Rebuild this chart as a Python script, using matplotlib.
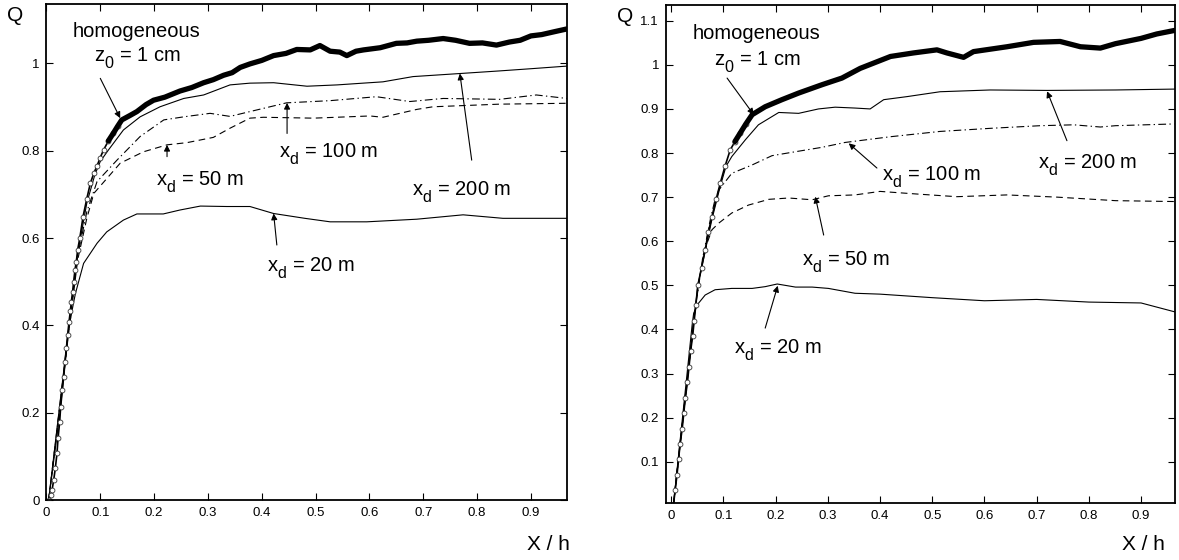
import numpy as np
import matplotlib.pyplot as plt

plt.rcParams['font.family'] = ['Liberation Sans Narrow', 'Liberation Sans', 'DejaVu Sans']
plt.rcParams['mathtext.fontset'] = 'custom'
plt.rcParams['mathtext.rm'] = 'Liberation Sans'
plt.rcParams['mathtext.it'] = 'Liberation Sans'

# subscripts in the original sit lower and are a bit bigger than mathtext's default
try:
    import matplotlib._mathtext as mtx
    mtx.SHRINK_FACTOR = 0.8
    for c in [mtx.FontConstantsBase] + list(mtx._font_constant_mapping.values()):
        c.sub1 = 0.65
except Exception:
    pass

# ---- left panel data (Q vs X/h) ----
hom_x_l = [0.004, 0.0085, 0.0104, 0.0135, 0.0165, 0.0196, 0.0215, 0.0245, 0.0264, 0.0295,
           0.032, 0.0345, 0.037, 0.0394, 0.042, 0.0443, 0.0462, 0.0486, 0.0505, 0.053,
           0.0555, 0.058, 0.062, 0.068, 0.075, 0.0815, 0.088, 0.094, 0.1, 0.106,
           0.115, 0.124, 0.132, 0.14, 0.155, 0.168, 0.185, 0.199, 0.22, 0.248,
           0.27, 0.292, 0.31, 0.329, 0.345, 0.36, 0.378, 0.40, 0.422, 0.445,
           0.465, 0.49, 0.508, 0.527, 0.545, 0.558, 0.575, 0.589, 0.62, 0.65,
           0.67, 0.688, 0.71, 0.737, 0.76, 0.786, 0.81, 0.836, 0.86, 0.88,
           0.90, 0.92, 0.945, 0.967]
hom_q_l = [0.0, 0.013, 0.024, 0.047, 0.074, 0.108, 0.142, 0.179, 0.214, 0.253,
           0.283, 0.317, 0.348, 0.378, 0.409, 0.432, 0.454, 0.477, 0.5, 0.527,
           0.546, 0.573, 0.60, 0.649, 0.69, 0.725, 0.748, 0.765, 0.784, 0.801,
           0.822, 0.839, 0.855, 0.87, 0.88, 0.889, 0.905, 0.915, 0.922, 0.936,
           0.944, 0.955, 0.962, 0.972, 0.978, 0.99, 0.998, 1.006, 1.017, 1.022,
           1.031, 1.03, 1.04, 1.027, 1.025, 1.017, 1.027, 1.03, 1.035, 1.045,
           1.046, 1.05, 1.052, 1.056, 1.052, 1.045, 1.046, 1.041, 1.048, 1.052,
           1.062, 1.065, 1.072, 1.078]

xd200_x_l = [0.004, 0.04, 0.058, 0.075, 0.09, 0.1, 0.115, 0.143, 0.174, 0.211, 0.255, 0.292,
             0.341, 0.378, 0.422, 0.484, 0.54, 0.588, 0.625, 0.681, 0.768, 0.842, 0.9, 0.967]
xd200_q_l = [0.0, 0.38, 0.565, 0.68, 0.745, 0.775, 0.801, 0.847, 0.877, 0.9, 0.919, 0.927,
             0.95, 0.954, 0.955, 0.947, 0.95, 0.954, 0.957, 0.969, 0.976, 0.982, 0.987, 0.993]

xd100_x_l = [0.004, 0.04, 0.058, 0.075, 0.094, 0.131, 0.174, 0.218, 0.255, 0.304, 0.341, 0.378,
             0.446, 0.527, 0.613, 0.675, 0.737, 0.842, 0.91, 0.967]
xd100_q_l = [0.0, 0.375, 0.56, 0.66, 0.729, 0.778, 0.832, 0.87, 0.877, 0.885, 0.878, 0.889,
             0.909, 0.914, 0.923, 0.912, 0.919, 0.917, 0.927, 0.919]

xd50_x_l = [0.004, 0.04, 0.058, 0.075, 0.088, 0.137, 0.18, 0.224, 0.261, 0.31, 0.341, 0.378,
            0.403, 0.496, 0.601, 0.625, 0.688, 0.718, 0.842, 0.967]
xd50_q_l = [0.0, 0.37, 0.55, 0.645, 0.702, 0.771, 0.797, 0.813, 0.818, 0.83, 0.851, 0.874,
            0.876, 0.874, 0.879, 0.876, 0.894, 0.9, 0.906, 0.908]

xd20_x_l = [0.004, 0.025, 0.041, 0.05, 0.054, 0.069, 0.094, 0.112, 0.143, 0.168, 0.217, 0.248,
            0.286, 0.335, 0.378, 0.422, 0.48, 0.527, 0.595, 0.688, 0.774, 0.848, 0.967]
xd20_q_l = [0.0, 0.2, 0.39, 0.45, 0.474, 0.542, 0.588, 0.614, 0.641, 0.655, 0.655, 0.664,
            0.673, 0.672, 0.672, 0.656, 0.645, 0.637, 0.637, 0.643, 0.653, 0.645, 0.645]

# ---- right panel data ----
hom_x_r = [0.004, 0.0075, 0.011, 0.014, 0.017, 0.021, 0.024, 0.027, 0.031, 0.034,
           0.037, 0.041, 0.044, 0.047, 0.051, 0.058, 0.065, 0.071, 0.078, 0.086,
           0.094, 0.103, 0.113, 0.122, 0.132, 0.143, 0.155, 0.18, 0.212, 0.244,
           0.289, 0.327, 0.362, 0.42, 0.464, 0.509, 0.528, 0.56, 0.579, 0.643,
           0.694, 0.745, 0.784, 0.822, 0.851, 0.9, 0.93, 0.964]
hom_q_r = [0.0, 0.035, 0.07, 0.105, 0.14, 0.175, 0.21, 0.245, 0.28, 0.315,
           0.35, 0.385, 0.42, 0.455, 0.5, 0.54, 0.58, 0.62, 0.656, 0.695,
           0.732, 0.77, 0.807, 0.826, 0.845, 0.866, 0.887, 0.905, 0.921, 0.936,
           0.955, 0.97, 0.992, 1.019, 1.027, 1.034, 1.027, 1.017, 1.03, 1.041,
           1.051, 1.053, 1.041, 1.038, 1.048, 1.06, 1.07, 1.078]

xd200_x_r = [0.004, 0.051, 0.078, 0.094, 0.105, 0.116, 0.142, 0.167, 0.206, 0.244, 0.282,
             0.314, 0.352, 0.381, 0.407, 0.452, 0.515, 0.611, 0.72, 0.851, 0.964]
xd200_q_r = [0.0, 0.5, 0.65, 0.725, 0.77, 0.792, 0.83, 0.864, 0.892, 0.89, 0.9,
             0.904, 0.902, 0.9, 0.921, 0.928, 0.939, 0.943, 0.942, 0.943, 0.945]

xd100_x_r = [0.004, 0.045, 0.06, 0.075, 0.083, 0.091, 0.116, 0.155, 0.193, 0.238, 0.289,
             0.333, 0.42, 0.515, 0.611, 0.707, 0.771, 0.822, 0.851, 0.964]
xd100_q_r = [0.0, 0.44, 0.56, 0.65, 0.69, 0.716, 0.754, 0.773, 0.794, 0.803, 0.813,
             0.824, 0.837, 0.849, 0.856, 0.862, 0.864, 0.859, 0.862, 0.866]

xd50_x_r = [0.004, 0.045, 0.06, 0.07, 0.078, 0.091, 0.116, 0.148, 0.187, 0.225, 0.27,
            0.301, 0.352, 0.4, 0.471, 0.547, 0.643, 0.739, 0.851, 0.964]
xd50_q_r = [0.0, 0.44, 0.56, 0.6, 0.626, 0.641, 0.664, 0.682, 0.695, 0.698, 0.694,
            0.703, 0.705, 0.713, 0.707, 0.701, 0.705, 0.7, 0.692, 0.69]

xd20_x_r = [0.004, 0.04, 0.043, 0.052, 0.065, 0.084, 0.116, 0.155, 0.18, 0.203, 0.238,
            0.27, 0.301, 0.352, 0.4, 0.5, 0.6, 0.7, 0.8, 0.9, 0.964]
xd20_q_r = [0.0, 0.41, 0.437, 0.459, 0.478, 0.49, 0.493, 0.493, 0.497, 0.503, 0.496,
            0.496, 0.493, 0.482, 0.48, 0.472, 0.465, 0.468, 0.462, 0.46, 0.44]

yticks_l = [0, 0.2, 0.4, 0.6, 0.8, 1]
yticks_r = [0.1, 0.2, 0.3, 0.4, 0.5, 0.6, 0.7, 0.8, 0.9, 1, 1.1]
xticks = [0, 0.1, 0.2, 0.3, 0.4, 0.5, 0.6, 0.7, 0.8, 0.9]

fig = plt.figure(figsize=(11.79, 5.6), dpi=100)
ax1 = fig.add_axes([0.0394, 0.1063, 0.4415, 0.8866])
ax2 = fig.add_axes([0.5649, 0.1023, 0.4317, 0.889])


def draw(ax, hx, hq, x200, q200, x100, q100, x50, q50, x20, q20):
    ax.plot(x200, q200, color='k', lw=0.8)
    ax.plot(x100, q100, color='k', lw=0.8, dashes=[7, 3, 1.2, 3])
    ax.plot(x50, q50, color='k', lw=0.8, dashes=[6, 4])
    ax.plot(x20, q20, color='k', lw=0.8)
    # circles show on the steep part, a thick wavy band on the flat part
    nsteep = sum(1 for v in hq if v < 0.87)
    ax.plot(hx, hq, color='k', lw=1.2, marker='o', ms=3.5, mfc='white', mec='#333333',
            mew=0.6, markevery=list(range(nsteep)))
    ax.plot(hx[nsteep - 3:], hq[nsteep - 3:], color='k', lw=3.8, solid_capstyle='round')
    ax.tick_params(direction='in', length=5, width=0.8, top=True, right=True,
                   labelsize=9.5, pad=5)
    ax.set_xticks(xticks)
    ax.set_xticklabels(['%g' % v for v in xticks])
    for s in ax.spines.values():
        s.set_linewidth(1.3)


draw(ax1, hom_x_l, hom_q_l, xd200_x_l, xd200_q_l, xd100_x_l, xd100_q_l,
     xd50_x_l, xd50_q_l, xd20_x_l, xd20_q_l)
draw(ax2, hom_x_r, hom_q_r, xd200_x_r, xd200_q_r, xd100_x_r, xd100_q_r,
     xd50_x_r, xd50_q_r, xd20_x_r, xd20_q_r)

ax1.set_xlim(0, 0.967)
ax1.set_ylim(0, 1.135)
ax1.set_yticks(yticks_l)
ax1.set_yticklabels(['%g' % v for v in yticks_l])
ax2.set_xlim(-0.01, 0.965)
ax2.set_ylim(0.007, 1.136)
ax2.set_yticks(yticks_r)
ax2.set_yticklabels(['%g' % v for v in yticks_r])

fs = 14.5
ap = dict(arrowstyle='-|>', color='k', lw=0.8, mutation_scale=9, shrinkA=0, shrinkB=0)


def xd(v):
    return r'$\mathregular{x_d}$ = %d m' % v


# left annotations
ax1.text(0.168, 1.071, 'homogeneous', fontsize=fs, ha='center', va='center')
ax1.text(0.17, 1.011, r'$\mathregular{z_0}$ = 1 cm', fontsize=fs, ha='center', va='center')
ax1.annotate('', xy=(0.137, 0.874), xytext=(0.1, 0.965), arrowprops=ap)
ax1.annotate('', xy=(0.447, 0.909), xytext=(0.447, 0.839), arrowprops=ap)
ax1.text(0.525, 0.79, xd(100), fontsize=fs, ha='center', va='center')
ax1.annotate('', xy=(0.768, 0.976), xytext=(0.79, 0.778), arrowprops=ap)
ax1.text(0.772, 0.705, xd(200), fontsize=fs, ha='center', va='center')
ax1.annotate('', xy=(0.224, 0.813), xytext=(0.224, 0.786), arrowprops=ap)
ax1.text(0.286, 0.728, xd(50), fontsize=fs, ha='center', va='center')
ax1.annotate('', xy=(0.422, 0.656), xytext=(0.428, 0.584), arrowprops=ap)
ax1.text(0.491, 0.531, xd(20), fontsize=fs, ha='center', va='center')

# right annotations
ax2.text(0.164, 1.07, 'homogeneous', fontsize=fs, ha='center', va='center')
ax2.text(0.166, 1.005, r'$\mathregular{z_0}$ = 1 cm', fontsize=fs, ha='center', va='center')
ax2.annotate('', xy=(0.158, 0.887), xytext=(0.107, 0.97), arrowprops=ap)
ax2.annotate('', xy=(0.72, 0.94), xytext=(0.758, 0.828), arrowprops=ap)
ax2.text(0.798, 0.771, xd(200), fontsize=fs, ha='center', va='center')
ax2.annotate('', xy=(0.34, 0.822), xytext=(0.394, 0.766), arrowprops=ap)
ax2.text(0.498, 0.744, xd(100), fontsize=fs, ha='center', va='center')
ax2.annotate('', xy=(0.276, 0.701), xytext=(0.292, 0.614), arrowprops=ap)
ax2.text(0.335, 0.553, xd(50), fontsize=fs, ha='center', va='center')
ax2.annotate('', xy=(0.204, 0.499), xytext=(0.18, 0.403), arrowprops=ap)
ax2.text(0.205, 0.353, xd(20), fontsize=fs, ha='center', va='center')

# axis labels
fig.text(15.5 / 1179, 1 - 15.5 / 560, 'Q', fontsize=15, ha='center', va='center')
fig.text(625.5 / 1179, 1 - 16.5 / 560, 'Q', fontsize=15, ha='center', va='center')
fig.text(548 / 1179, 1 - 545 / 560, 'X / h', fontsize=15, ha='center', va='center')
fig.text(1143 / 1179, 1 - 545 / 560, 'X / h', fontsize=15, ha='center', va='center')

fig.savefig('out.png', dpi=100)
